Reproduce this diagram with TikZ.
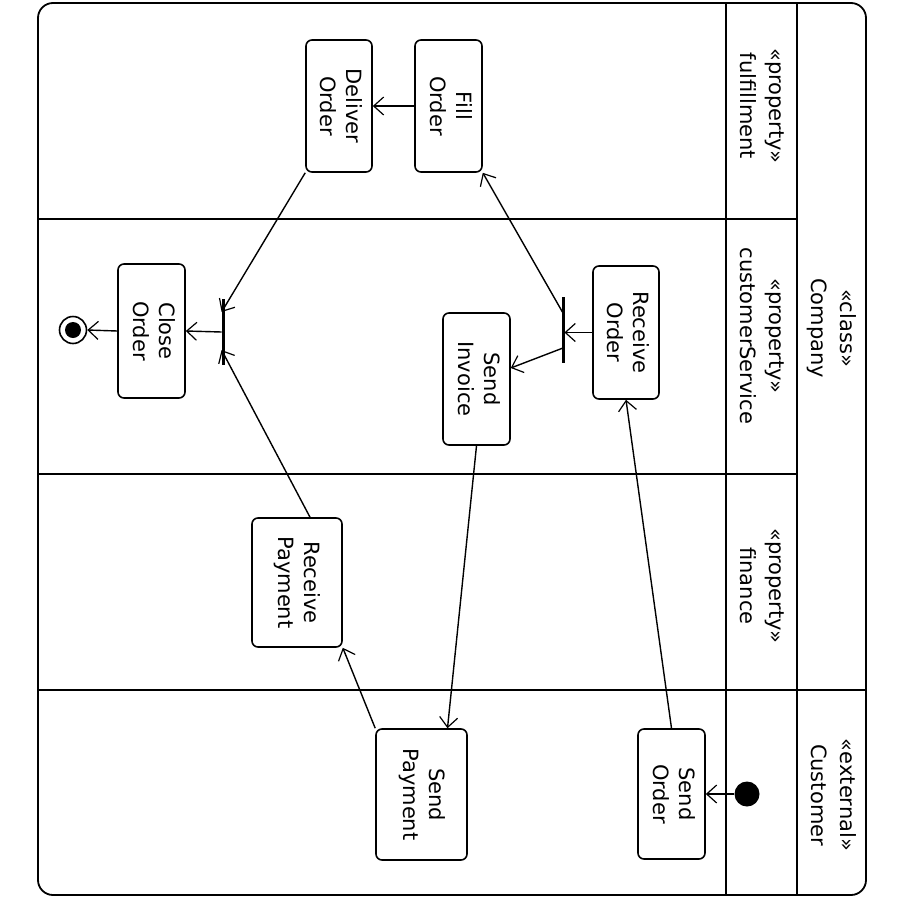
\documentclass[tikz,border=0pt]{standalone}
\usepackage{fontspec}
\setmainfont{DejaVu Sans}
\usetikzlibrary{arrows.meta,calc}

% Activity diagram with swimlanes, laid out sideways (text runs top to bottom).
\tikzset{
  frameline/.style={line width=1.8pt},
  act/.style={draw, line width=1.6pt, rounded corners=6pt, inner sep=0pt,
              font=\fontsize{21}{26}\selectfont},
  lanelabel/.style={inner sep=0pt, font=\fontsize{21}{29}\selectfont},
  bar/.style={fill=black, draw=black, inner sep=0pt, minimum width=2.4pt, minimum height=65pt},
  flow/.style={line width=1.4pt, -{Straight Barb[length=10pt,width=18pt,line width=1.2pt]}},
}
\newcommand{\sidetext}[1]{\rotatebox[origin=c]{-90}{\begin{tabular}{@{}c@{}}#1\end{tabular}}}

\begin{document}
\begin{tikzpicture}[x=1pt,y=-1pt]
  \useasboundingbox (0,0) rectangle (900,900);

  % outer frame and partitions
  \draw[frameline, rounded corners=15pt] (38,3) rectangle (866,895);
  \draw[frameline] (726,3) -- (726,895);
  \draw[frameline] (797,3) -- (797,895);
  \draw[frameline] (38,219) -- (797,219);
  \draw[frameline] (38,474) -- (797,474);
  \draw[frameline] (38,690) -- (866,690);

  % partition headers
  \node[lanelabel] (lfulfil) at (761,106) {\sidetext{«property»\\fulfillment}};
  \node[lanelabel] (lcustsvc) at (761,336) {\sidetext{«property»\\customerService}};
  \node[lanelabel] (lfinance) at (761,586) {\sidetext{«property»\\finance}};
  \node[lanelabel] (lcompany) at (832,328) {\sidetext{«class»\\Company}};
  \node[lanelabel] (lcustomer) at (832,795) {\sidetext{«external»\\Customer}};

  % actions
  \node[act, minimum width=66pt, minimum height=132pt] (deliver) at (339,106) {\sidetext{Deliver\\Order}};
  \node[act, minimum width=67pt, minimum height=132pt] (fill) at (448.5,106) {\sidetext{Fill\\Order}};
  \node[act, minimum width=66pt, minimum height=133pt] (recv) at (626,332.5) {\sidetext{Receive\\Order}};
  \node[act, minimum width=67pt, minimum height=132pt] (invoice) at (476.5,379) {\sidetext{Send\\Invoice}};
  \node[act, minimum width=67pt, minimum height=134pt] (close) at (151.5,331) {\sidetext{Close\\Order}};
  \node[act, minimum width=90pt, minimum height=129pt] (rpay) at (297,582.5) {\sidetext{Receive\\Payment}};
  \node[act, minimum width=91pt, minimum height=131pt] (spay) at (421.5,794.5) {\sidetext{Send\\Payment}};
  \node[act, minimum width=67pt, minimum height=130pt] (sorder) at (671.5,794) {\sidetext{Send\\Order}};

  % initial and final nodes
  \node[circle, fill=black, minimum size=25pt, inner sep=0pt] (start) at (747,794) {};
  \node[circle, draw, line width=1.6pt, minimum size=27pt, inner sep=0pt] (final) at (73,330) {};
  \fill (final.center) circle (8pt);

  % fork and join bars
  \node[bar] (fork) at (563,330) {};
  \node[bar] (join) at (223,332) {};

  % control flows
  \draw[flow] (start) -- (sorder.east);
  \draw[flow] (sorder.north) -- (recv.south);
  \draw[flow] (recv.west) -- (recv.west -| fork.east);
  \draw[flow] ($(fork.center)+(0,18)$) -- ($(invoice.east)+(0,-11)$);
  \draw[flow] ($(fork.center)+(0,-17)$) -- (fill.south east);
  \draw[flow] (fill.west) -- (deliver.east);
  \draw[flow] (deliver.south west) -- ($(join.west)+(0,-20)$);
  \draw[flow] ($(rpay.north)+(13,0)$) -- ($(join.west)+(0,18)$);
  \draw[flow] (join.west) -- (close.east);
  \draw[flow] (close.west) -- (final.east);
  \draw[flow] (spay.north west) -- (rpay.south east);
  \draw[flow] (invoice.south) -- ($(spay.north)+(26,0)$);
\end{tikzpicture}
\end{document}
